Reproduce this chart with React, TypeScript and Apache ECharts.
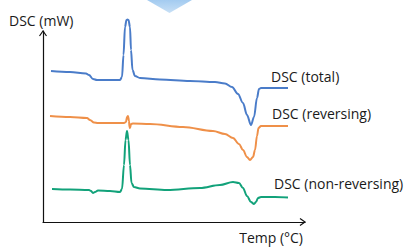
import React, { useEffect, useRef } from "react";
import * as echarts from "echarts";

// x: temperature (arbitrary units), y: heat flow (arbitrary units)
const totalData: number[][] = [
  [8, 151], [27, 150], [43, 148.5], [46, 147], [50, 143], [54, 142], [67, 142], [77, 142],
  [79, 145], [80.5, 167], [82, 195], [83.5, 202], [84.5, 202.5], [85.5, 202], [87, 195],
  [88, 172], [89.5, 152], [92, 146], [97, 144], [117, 142.5], [147, 141], [172, 140],
  [182, 138.5], [189, 135], [195, 128], [200, 119], [204, 107], [208, 97], [211, 105],
  [214, 124], [216, 133], [218, 134], [232, 134], [245, 134],
];
const reversingData: number[][] = [
  [7, 106], [27, 105], [44, 104], [47, 102], [51, 99.5], [55, 99], [67, 99], [81, 99],
  [83, 100], [84, 105], [85, 106], [86, 101], [86.5, 95], [87, 94], [88, 98], [90, 98.5],
  [107, 98], [140, 95], [170, 91], [182, 88], [190, 84], [196, 78], [200, 72], [204, 65],
  [207, 62], [210, 65], [212, 72], [214, 86], [215.5, 94], [218, 96], [232, 96], [245, 96],
];
const nonReversingData: number[][] = [
  [9, 33], [27, 32.5], [46, 32], [48, 31], [50, 29], [52, 30], [55, 31.5], [67, 31],
  [77, 30], [79, 33], [81, 57], [82.5, 82], [84, 91], [85.5, 82], [87, 57], [88.5, 39],
  [91, 35], [97, 33.5], [124, 32], [157, 34], [177, 37], [190, 40], [196, 39], [200, 34],
  [204, 26], [208, 20], [211, 18], [213, 20], [215, 24], [218, 25], [232, 25], [245, 24.5],
];
const seriesNames = ["DSC (total)", "DSC (reversing)", "DSC (non-reversing)"];
const seriesColors = ["#4a7cc9", "#ef9049", "#12a27a"];
const xAxisName = "Temp (°C)";
const yAxisName = "DSC (mW)";

const FONT = "'Open Sans', 'Noto Sans', sans-serif";
const FS = 14;

export default function App() {
  const ref = useRef<HTMLDivElement>(null);
  useEffect(() => {
    if (!ref.current) return;
    const chart = echarts.init(ref.current, undefined, { renderer: "svg" });
    const datasets = [totalData, reversingData, nonReversingData];
    chart.setOption({
      animation: false,
      backgroundColor: "#ffffff",
      grid: { left: 43, right: 103, top: 31, bottom: 25, containLabel: false },
      xAxis: {
        type: "value",
        min: 0,
        max: 262,
        axisLine: { show: true, onZero: false, lineStyle: { color: "#111", width: 1.2 } },
        axisTick: { show: false },
        axisLabel: { show: false },
        splitLine: { show: false },
      },
      yAxis: {
        type: "value",
        min: 0,
        max: 191,
        axisLine: { show: true, onZero: false, lineStyle: { color: "#111", width: 1.2 } },
        axisTick: { show: false },
        axisLabel: { show: false },
        splitLine: { show: false },
      },
      series: datasets.map((d, i) => ({
        type: "line",
        name: seriesNames[i],
        data: d,
        clip: false,
        showSymbol: false,
        smooth: 0.35,
        smoothMonotone: "x",
        lineStyle: { color: seriesColors[i], width: 2 },
        itemStyle: { color: seriesColors[i] },
      })),
      graphic: [
        {
          type: "polygon",
          shape: { points: [[147, 0], [192, 0], [169.5, 13]] },
          style: {
            fill: new echarts.graphic.LinearGradient(0, 0, 0, 1, [
              { offset: 0, color: "#a3cbf0" },
              { offset: 1, color: "#c8e0f6" },
            ]),
          },
        },
        {
          type: "polyline",
          shape: { points: [[39.5, 36], [43, 31], [46.5, 36]] },
          style: { stroke: "#111", lineWidth: 1.2, fill: "none" },
        },
        {
          type: "polyline",
          shape: { points: [[300, 218.5], [305, 222], [300, 225.5]] },
          style: { stroke: "#111", lineWidth: 1.2, fill: "none" },
        },
        {
          type: "text",
          x: 9,
          y: 20,
          style: { text: yAxisName, fill: "#1a1a1a", font: `${FS}px ${FONT}`, textVerticalAlign: "middle" },
        },
        {
          type: "text",
          x: 303,
          y: 237.5,
          style: { text: xAxisName, fill: "#1a1a1a", font: `${FS}px ${FONT}`, textAlign: "right", textVerticalAlign: "middle" },
        },
        {
          type: "text",
          x: 271,
          y: 76,
          style: { text: seriesNames[0], fill: "#1a1a1a", font: `${FS}px ${FONT}`, textVerticalAlign: "middle" },
        },
        {
          type: "text",
          x: 272,
          y: 113,
          style: { text: seriesNames[1], fill: "#1a1a1a", font: `${FS}px ${FONT}`, textVerticalAlign: "middle" },
        },
        {
          type: "text",
          x: 274,
          y: 183,
          style: { text: seriesNames[2], fill: "#1a1a1a", font: `${FS}px ${FONT}`, textVerticalAlign: "middle" },
        },
      ],
    });
    return () => chart.dispose();
  }, []);
  return (
    <div
      ref={ref}
      style={{ position: "fixed", left: 0, top: 0, width: 408, height: 247 }}
    />
  );
}
